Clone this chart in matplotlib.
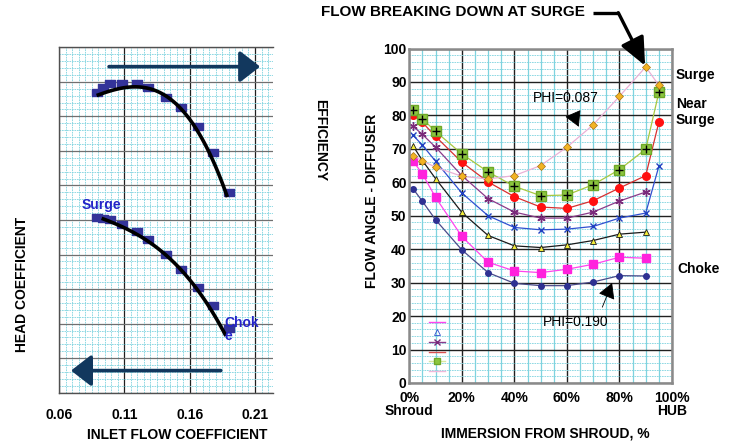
import numpy as np
import matplotlib
matplotlib.use('Agg')
import matplotlib.pyplot as plt
from matplotlib.ticker import MultipleLocator
from matplotlib.lines import Line2D

# left panel: compressor characteristic
phi = [0.0889, 0.0939, 0.0991, 0.1080, 0.1195, 0.1284, 0.1417, 0.1530, 0.1664, 0.1781, 0.1904]
eff_pts = [8.72, 8.86, 8.96, 8.98, 8.96, 8.86, 8.57, 8.26, 7.72, 6.98, 5.82]
head_pts = [5.10, 5.06, 5.02, 4.88, 4.69, 4.44, 4.02, 3.58, 3.07, 2.54, 1.86]
# hand-drawn trend lines
eff_fit_x = [0.0901, 0.0991, 0.1100, 0.1220, 0.1373, 0.1578, 0.1731, 0.1884]
eff_fit_y = [8.57, 8.78, 8.89, 8.86, 8.59, 7.99, 7.22, 5.66]
head_fit_x = [0.0939, 0.1080, 0.1245, 0.1399, 0.1616, 0.1756, 0.1871]
head_fit_y = [5.02, 4.83, 4.47, 4.04, 3.17, 2.49, 1.67]
phi_ticks = [0.06, 0.11, 0.16, 0.21]

# right panel: diffuser flow angle vs immersion
immersion = [1.5, 5, 10, 20, 30, 40, 50, 60, 70, 80, 90, 95]
phi_087 = [68.0, 66.4, 64.5, 61.8, 61.0, 62.0, 65.0, 70.5, 77.2, 85.7, 94.5, 89.0]
near_surge = [81.5, 79.0, 75.2, 68.5, 63.1, 58.8, 56.0, 56.2, 59.3, 63.8, 69.9, 86.9]
red_ser = [80.2, 77.9, 73.7, 66.0, 60.1, 55.7, 52.6, 52.2, 54.5, 58.3, 62.0, 78.0]
purple_ser = [76.7, 74.3, 70.5, 62.0, 55.1, 51.1, 49.3, 49.3, 51.1, 54.4, 57.1]
blue_ser = [74.0, 71.1, 66.3, 56.8, 50.0, 46.5, 45.8, 46.0, 46.8, 49.3, 50.8, 64.8]
tri_ser = [70.8, 66.5, 61.1, 51.0, 44.1, 41.0, 40.5, 41.3, 42.6, 44.5, 45.1]
mag_ser = [66.3, 62.5, 55.5, 43.8, 36.1, 33.5, 33.0, 34.0, 35.5, 37.6, 37.3]
phi_190 = [58.0, 54.3, 48.8, 39.8, 33.0, 29.8, 29.1, 29.1, 30.2, 32.1, 32.0]
imm_ticks = [0, 20, 40, 60, 80, 100]
imm_labels = ['0%\nShroud', '20%', '40%', '60%', '80%', '100%\nHUB']

NAVY = '#12385E'
MARK = '#333399'
BLUE_TXT = '#2424C8'
CYAN = '#7FD3DF'
RECT = [(-1.25, -0.9), (1.25, -0.9), (1.25, 0.9), (-1.25, 0.9), (-1.25, -0.9)]

plt.rcParams.update({'font.family': ['Liberation Sans', 'DejaVu Sans'], 'font.size': 10,
                     'font.weight': 'bold'})

W, H = 730, 446


def px(x, y):
    return x / W, 1 - y / H


fig = plt.figure(figsize=(7.3, 4.46), dpi=100, facecolor='white')

# ---- left panel
ax1 = fig.add_axes([59 / W, 1 - 392.7 / H, 214.3 / W, 345.4 / H])
ax1.set_xlim(0.06, 0.224)
ax1.set_ylim(0, 10)
ax1.xaxis.set_major_locator(MultipleLocator(0.05))
ax1.xaxis.set_minor_locator(MultipleLocator(0.005))
ax1.yaxis.set_major_locator(MultipleLocator(1))
ax1.yaxis.set_minor_locator(MultipleLocator(0.2))
ax1.grid(which='minor', color=CYAN, lw=0.6, ls=(0, (2, 1)))
ax1.xaxis.grid(True, which='major', color='#202020', lw=0.9)
ax1.yaxis.grid(True, which='major', color='#707070', lw=0.9)
ax1.set_axisbelow(True)
ax1.set_xticks(phi_ticks, [f'{t:.2f}' for t in phi_ticks])
ax1.set_yticklabels([])
ax1.tick_params(which='both', length=0)
ax1.tick_params(axis='x', pad=11)
ax1.spines['right'].set_visible(False)
for s in ['left', 'bottom', 'top']:
    ax1.spines[s].set_color('#505050')
    ax1.spines[s].set_linewidth(1.0)

ax1.plot(phi, eff_pts, ls='none', marker=RECT, ms=7, color=MARK, zorder=3)
ax1.plot(phi, head_pts, ls='none', marker=RECT, ms=7, color=MARK, zorder=3)
for fx, fy in [(eff_fit_x, eff_fit_y), (head_fit_x, head_fit_y)]:
    c = np.polyfit(fx, fy, 3)
    xx = np.linspace(fx[0], fx[-1], 100)
    ax1.plot(xx, np.polyval(c, xx), color='black', lw=2.6, zorder=4)

ax1.annotate('', xy=(0.2139, 9.44), xytext=(0.0983, 9.44),
             arrowprops=dict(arrowstyle='-|>,head_length=0.62,head_width=0.48', lw=2.6,
                             color=NAVY, mutation_scale=20, shrinkA=0, shrinkB=0))
ax1.annotate('', xy=(0.0692, 0.64), xytext=(0.1838, 0.64),
             arrowprops=dict(arrowstyle='-|>,head_length=0.62,head_width=0.48', lw=2.6,
                             color=NAVY, mutation_scale=20, shrinkA=0, shrinkB=0))
ax1.text(0.0922, 5.43, 'Surge', color=BLUE_TXT, fontsize=10, ha='center', va='center', zorder=5)
ax1.text(0.1869, 1.83, 'Chok\ne', color=BLUE_TXT, fontsize=10, ha='left', va='center',
         linespacing=0.95, zorder=5)

fig.text(*px(22, 284), 'HEAD COEFFICIENT', rotation=90, ha='center', va='center', fontsize=10)
fig.text(*px(320, 140), 'EFFICIENCY', rotation=270, ha='center', va='center', fontsize=10)
fig.text(*px(177, 435), 'INLET FLOW COEFFICIENT', ha='center', va='center', fontsize=10)

# ---- right panel
ax2 = fig.add_axes([409.3 / W, 1 - 383 / H, 262.7 / W, 334.5 / H])
ax2.set_xlim(0, 100)
ax2.set_ylim(0, 100)
ax2.xaxis.set_major_locator(MultipleLocator(20))
ax2.xaxis.set_minor_locator(MultipleLocator(5))
ax2.yaxis.set_major_locator(MultipleLocator(10))
ax2.yaxis.set_minor_locator(MultipleLocator(2))
ax2.xaxis.grid(True, which='minor', color=CYAN, lw=0.9)
ax2.yaxis.grid(True, which='minor', color=CYAN, lw=0.6, ls=(0, (2, 1)))
ax2.grid(which='major', color='#202020', lw=1.0)
ax2.set_axisbelow(True)
ax2.set_xticks(imm_ticks, imm_labels)
for lab in ax2.get_xticklabels():
    lab.set_linespacing(0.85)
ax2.tick_params(which='both', length=0)
ax2.tick_params(axis='x', pad=6)
ax2.tick_params(axis='y', pad=2)
for s in ax2.spines.values():
    s.set_color('#8A8A8A')
    s.set_linewidth(1.8)

n11 = immersion[:11]
ax2.plot(n11, phi_190, color='#4A4A8A', lw=0.9, marker='o', ms=4, mfc='#2E3192', mec='#2E3192')
ax2.plot(n11, mag_ser, color='#FF44EE', lw=0.9, marker='s', ms=5.5, mfc='#FF22DD', mec='#FF22DD')
ax2.plot(n11, tri_ser, color='#1A1A1A', lw=0.9, marker='^', ms=5, mfc='#F2EC3A', mec='#1A1A1A', mew=0.6)
ax2.plot(immersion, blue_ser, color='#3050D0', lw=0.9, marker='x', ms=5, mec='#2040C0', mew=1.0)
ax2.plot(n11, purple_ser, color='#8A3A8A', lw=0.9, marker=(6, 2, 0), ms=6, mec='#7A2A7A', mew=1.0)
ax2.plot(immersion, red_ser, color='#D83030', lw=0.9, marker='o', ms=5.5, mfc='#FF1010', mec='#FF1010')
ax2.plot(immersion, near_surge, color='#A8C840', lw=0.9, marker='s', ms=6.5, mfc='#8CC63F', mec='#6EA828')
ax2.plot(immersion, near_surge, ls='none', marker='+', ms=6, mec='black', mew=1.0)
ax2.plot(immersion, phi_087, color='#EAB0D6', lw=0.9, marker='D', ms=3.8, mfc='#F2B324', mec='#A87410', mew=0.5)

leg_handles = [
    Line2D([], [], color='#FF44EE', lw=1.0),
    Line2D([], [], color='#3050D0', lw=0, marker='^', ms=4, mfc='none', mec='#3050D0', mew=0.6),
    Line2D([], [], color='#8A3A8A', lw=1.0, marker='x', ms=4, mec='#7A2A7A'),
    Line2D([], [], color='#D85050', lw=1.0),
    Line2D([], [], color='#D6E8A0', lw=1.0, marker='s', ms=5, mfc='#8CC63F', mec='#6EA828'),
    Line2D([], [], color='#F0B8DA', lw=1.0),
]
ax2.legend(leg_handles, [''] * 6, loc='lower left', bbox_to_anchor=(0.055, 0.005), frameon=False,
           fontsize=5, labelspacing=0.42, handlelength=2.2, handletextpad=0, borderpad=0.3)

ax2.annotate('PHI=0.087', xy=(64.5, 76.6), xytext=(59.7, 85.2), ha='center', va='center',
             fontsize=10, fontweight='normal',
             arrowprops=dict(arrowstyle='-|>,head_length=0.8,head_width=0.45', lw=0.6, color='black',
                             mutation_scale=12, shrinkA=8, shrinkB=0))
ax2.annotate('PHI=0.190', xy=(77.2, 29.9), xytext=(63.5, 18.2), ha='center', va='center',
             fontsize=10, fontweight='normal',
             arrowprops=dict(arrowstyle='-|>,head_length=0.8,head_width=0.45', lw=0.6, color='black',
                             mutation_scale=12, shrinkA=4, shrinkB=0,
                             relpos=(0.85, 1.0)))

# flow breaking down callout
fig.text(*px(585, 12), 'FLOW BREAKING DOWN AT SURGE', ha='right', va='center', fontsize=11)
fig.add_artist(Line2D([593.3 / W, 618.3 / W], [1 - 12.7 / H, 1 - 12.7 / H], color='black', lw=2.4,
                      solid_capstyle='butt'))
ax2.annotate('', xy=(immersion[10], phi_087[10]), xytext=px(618.3, 12.7), textcoords='figure fraction',
             arrowprops=dict(arrowstyle='-|>,head_length=0.85,head_width=0.38', lw=2.4, color='black',
                             mutation_scale=20, shrinkA=0, shrinkB=1), annotation_clip=False)

fig.text(*px(676, 75), 'Surge', ha='left', va='center', fontsize=10)
fig.text(*px(676, 112), 'Near\nSurge', ha='left', va='center', fontsize=10, linespacing=1.1)
fig.text(*px(677, 269), 'Choke', ha='left', va='center', fontsize=10)
fig.text(*px(372, 201), 'FLOW ANGLE - DIFFUSER', rotation=90, ha='center', va='center', fontsize=10)
fig.text(*px(545, 433), 'IMMERSION FROM SHROUD, %', ha='center', va='center', fontsize=10)

fig.savefig('out.png', dpi=100, facecolor='white')
